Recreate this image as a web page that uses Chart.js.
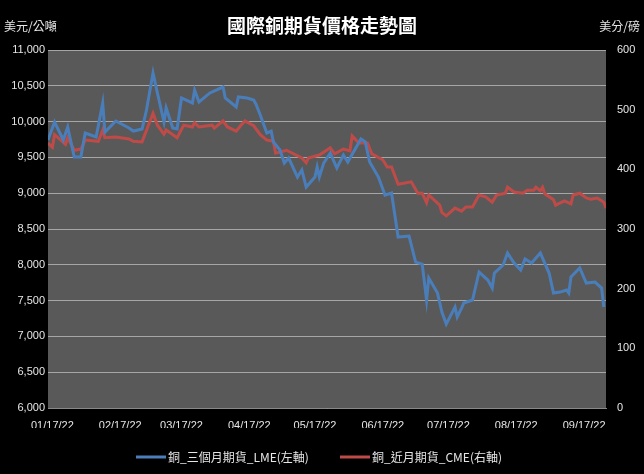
<!DOCTYPE html>
<html>
<head>
<meta charset="utf-8">
<script src="https://cdn.jsdelivr.net/npm/chart.js@4"></script>
<style>
  html, body { margin: 0; padding: 0; background: #000; }
  #wrap { width: 644px; height: 474px; }
</style>
</head>
<body>
<div id="wrap"><canvas id="c" width="644" height="474"></canvas></div>
<script>
// ===============================
// DATA (day 0 = 01/17/22)
// ===============================
const tickDays = [0, 31, 59, 90, 120, 151, 181, 212, 243];
const tickLabels = ["01/17/22","02/17/22","03/17/22","04/17/22","05/17/22","06/17/22","07/17/22","08/17/22","09/17/22"];

const lmeDays = [-2,1,5,7,10,13,15,20,23,24,29,35,37,41,43,46,48,51,52,55,57,59,64,65,67,72,78,79,84,85,89,92,93,95,98,100,101,104,106,108,112,114,116,120,121,122,124,127,130,133,135,141,143,145,149,152,155,158,163,166,169,171,172,176,178,180,184,185,187,188,192,195,199,201,202,206,208,211,214,216,219,221,223,227,229,232,235,236,237,241,244,248,251,252];
const lmeValues = [9743,9994,9743,9924,9505,9505,9840,9785,10260,9854,10008,9910,9868,9896,10162,10679,10400,9994,10190,9910,9896,10330,10260,10441,10274,10400,10483,10330,10204,10344,10330,10302,10246,10092,9840,9868,9715,9603,9421,9491,9226,9324,9086,9226,9366,9226,9421,9561,9352,9533,9435,9757,9715,9435,9226,8974,9002,8388,8402,8038,8010,7508,7815,7605,7340,7172,7410,7270,7396,7466,7508,7899,7787,7675,7885,7997,8164,8024,7927,8080,8024,8094,8164,7885,7605,7619,7647,7605,7829,7955,7745,7759,7675,7410];

const cmeDays = [-2,0,1,6,7,10,13,15,21,23,24,29,35,37,41,46,48,51,52,57,60,64,65,67,73,74,78,80,84,86,88,92,95,98,101,102,107,114,116,117,122,127,129,133,136,137,140,144,146,151,153,155,158,164,167,169,171,172,177,178,180,184,187,189,192,195,198,201,203,207,208,211,215,217,220,221,223,224,225,229,230,234,237,238,241,244,246,249,252,253];
const cmeValues = [444,437,458,442,453,432,434,449,447,466,453,454,451,447,446,494,474,459,466,453,474,471,478,471,474,469,481,471,464,473,481,473,458,449,447,427,432,419,411,419,424,436,426,434,431,456,444,444,426,416,404,404,375,379,360,360,344,357,340,328,322,335,330,337,337,357,354,345,357,360,370,362,360,365,365,370,364,370,359,349,340,347,342,357,360,352,350,352,345,335];

const lmeName = "銅_三個月期貨_LME(左軸)";
const cmeName = "銅_近月期貨_CME(右軸)";
const blue = "#4a7ebb";
const red = "#be4b48";

function toPoints(days, vals){
    return days.map((d, i) => ({ x: d, y: vals[i] }));
}

// ===============================
// DECORATIONS
// ===============================
const decor = {
    id: "decor",
    beforeDraw(chart){
        const ctx = chart.ctx, a = chart.chartArea;
        ctx.save();
        ctx.fillStyle = "#000";
        ctx.fillRect(0, 0, chart.width, chart.height);
        ctx.fillStyle = "#595959";
        ctx.fillRect(a.left, a.top, a.right - a.left, a.bottom - a.top);
        ctx.restore();
    },
    afterDraw(chart){
        const ctx = chart.ctx;
        ctx.save();
        ctx.fillStyle = "#fff";
        ctx.font = "bold 19px 'Noto Sans CJK TC'";
        ctx.textAlign = "center";
        ctx.textBaseline = "middle";
        ctx.fillText("國際銅期貨價格走勢圖", 322, 26);
        ctx.font = "12px 'Noto Sans CJK TC'";
        ctx.fillStyle = "#e6e6e6";
        ctx.textAlign = "left";
        ctx.fillText("美元/公噸", 4, 26);
        ctx.textAlign = "right";
        ctx.fillText("美分/磅", 640, 26);

        // legend
        const y = 457;
        ctx.lineWidth = 3;
        ctx.strokeStyle = blue;
        ctx.beginPath(); ctx.moveTo(136, y); ctx.lineTo(166, y); ctx.stroke();
        ctx.strokeStyle = red;
        ctx.beginPath(); ctx.moveTo(340, y); ctx.lineTo(370, y); ctx.stroke();
        ctx.textAlign = "left";
        ctx.fillStyle = "#e6e6e6";
        ctx.fillText(lmeName, 168, y);
        ctx.fillText(cmeName, 372, y);
        ctx.restore();
    }
};

// ===============================
// CHART
// ===============================
new Chart(document.getElementById("c"), {
    type: "line",
    data: {
        datasets: [
            { label: lmeName, data: toPoints(lmeDays, lmeValues), yAxisID: "y",
              borderColor: blue, borderWidth: 3, pointRadius: 0, tension: 0 },
            { label: cmeName, data: toPoints(cmeDays, cmeValues), yAxisID: "y2",
              borderColor: red, borderWidth: 3, pointRadius: 0, tension: 0 }
        ]
    },
    options: {
        responsive: false,
        animation: false,
        layout: { padding: { top: 50, bottom: 46, left: 0, right: 0 } },
        plugins: { legend: { display: false }, tooltip: { enabled: false } },
        scales: {
            x: {
                type: "linear", min: -2, max: 253,
                afterBuildTicks: s => { s.ticks = tickDays.map(v => ({ value: v })); },
                afterFit: s => { s.height = 20; },
                ticks: {
                    color: "#e6e6e6", font: { size: 11 }, maxRotation: 0, autoSkip: false,
                    callback: v => tickLabels[tickDays.indexOf(v)]
                },
                grid: { display: false },
                border: { color: "#888" }
            },
            y: {
                position: "left", min: 6000, max: 11000,
                afterFit: s => { s.width = 48; },
                ticks: { stepSize: 500, color: "#e6e6e6", font: { size: 11 } },
                grid: { color: "#a6a6a6", drawTicks: false },
                border: { display: false }
            },
            y2: {
                position: "right", min: 0, max: 600,
                afterFit: s => { s.width = 38; },
                ticks: { stepSize: 100, color: "#e6e6e6", font: { size: 11 } },
                grid: { display: false },
                border: { display: false }
            }
        }
    },
    plugins: [decor]
});
</script>
</body>
</html>
